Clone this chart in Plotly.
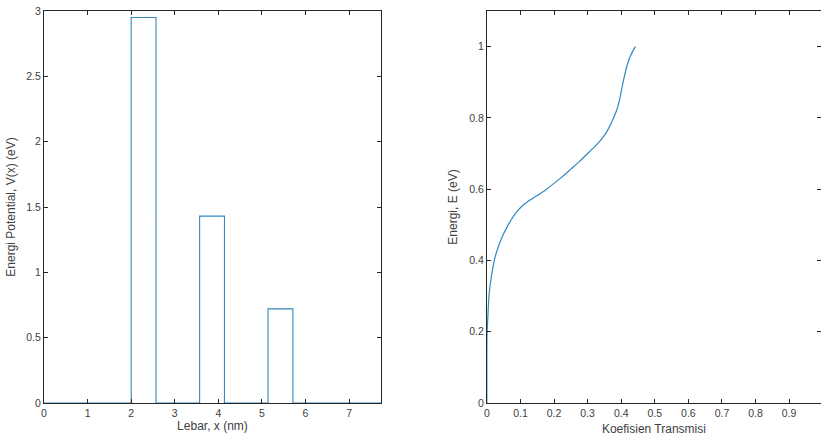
import plotly.graph_objects as go
from plotly.subplots import make_subplots

# Left panel: potential barriers
barrier_start = [2.0, 3.57, 5.14]
barrier_width = [0.57, 0.57, 0.57]
barrier_height = [2.95, 1.43, 0.72]
x_end = 7.73

# Right panel: transmission coefficient vs energy
energy = [0, 0.1, 0.18, 0.205, 0.242, 0.28, 0.317, 0.345, 0.364, 0.39, 0.411, 0.435, 0.458,
          0.477, 0.495, 0.515, 0.533, 0.55, 0.565, 0.58, 0.598, 0.617, 0.636, 0.657, 0.678,
          0.7, 0.72, 0.74, 0.758, 0.777, 0.795, 0.823, 0.85, 0.879, 0.91, 0.945, 0.975, 1.0]
trans = [0, 0, 0.0003, 0.001, 0.003, 0.005, 0.008, 0.012, 0.015, 0.02, 0.025, 0.033, 0.042,
         0.051, 0.061, 0.073, 0.086, 0.102, 0.121, 0.146, 0.175, 0.201, 0.226, 0.251, 0.276,
         0.300, 0.322, 0.341, 0.355, 0.366, 0.375, 0.387, 0.395, 0.401, 0.408, 0.417, 0.428, 0.442]

xs = [0.0]
vs = [0.0]
for s, w, h in zip(barrier_start, barrier_width, barrier_height):
    xs += [s, s + w]
    vs += [h, 0.0]
xs.append(x_end)
vs.append(0.0)

LINE = '#3188c2'
AX = '#262626'
TXT = '#404040'
FONT = 'Liberation Sans, Arial, sans-serif'

fig = make_subplots(rows=1, cols=2)
fig.add_trace(go.Scatter(x=xs, y=vs, mode='lines', line=dict(color=LINE, width=1.1, shape='hv'),
                         showlegend=False), row=1, col=1)
fig.add_trace(go.Scatter(x=trans, y=energy, mode='lines',
                         line=dict(color=LINE, width=1.2, shape='spline', smoothing=0.5),
                         showlegend=False), row=1, col=2)

axcommon = dict(showline=True, linecolor=AX, linewidth=1, mirror='ticks', ticks='inside',
                ticklen=4, tickcolor=AX, showgrid=False, zeroline=False, automargin=False,
                tickfont=dict(family=FONT, size=10.5, color=TXT))
tfont = dict(family=FONT, size=12, color=TXT)

fig.update_layout(
    width=821, height=441,
    margin=dict(l=0, r=0, t=0, b=0, autoexpand=False),
    paper_bgcolor='white', plot_bgcolor='rgba(0,0,0,0)',
    font=dict(family=FONT, color=TXT),
    xaxis=dict(domain=[0.0536, 0.464], range=[0, x_end], dtick=1,
               title=dict(text='Lebar, x (nm)', font=tfont, standoff=4), **axcommon),
    yaxis=dict(domain=[0.0862, 0.975], range=[0, 3], dtick=0.5,
               title=dict(text='Energi Potential, V(x) (eV)', font=tfont, standoff=8), **axcommon),
    xaxis2=dict(domain=[0.593, 1.0], range=[0, 0.995], dtick=0.1,
                title=dict(text='Koefisien Transmisi', font=tfont, standoff=7), **axcommon),
    yaxis2=dict(domain=[0.0862, 0.975], range=[0, 1.1], tickvals=[0, 0.2, 0.4, 0.6, 0.8, 1],
                ticktext=['0', '0.2', '0.4', '0.6', '0.8', '1'],
                title=dict(text='Energi, E (eV)', font=tfont, standoff=8), **axcommon),
)

fig.write_html('out.html')
